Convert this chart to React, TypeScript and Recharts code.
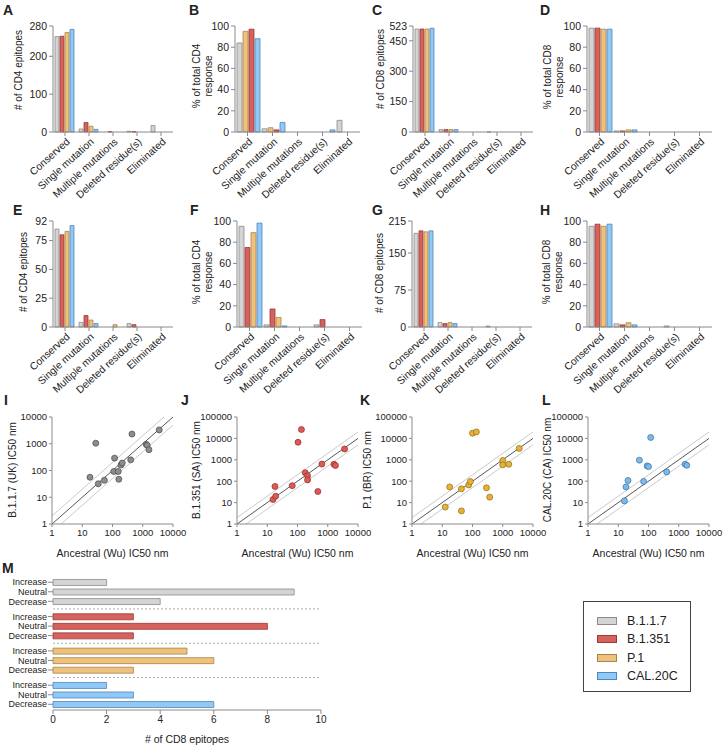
import React from 'react';
import { BarChart, Bar, XAxis, YAxis, ScatterChart, Scatter, ReferenceLine, Cell, Label } from 'recharts';

// categories shared by the bar panels
const categories = ['Conserved', 'Single mutation', 'Multiple mutations', 'Deleted residue(s)', 'Eliminated'];
const variants = ['B.1.1.7', 'B.1.351', 'P.1', 'CAL.20C'];

// A - # of CD4 epitopes
const aB117 = [252, 8, 0, 2, 17];
const aB1351 = [253, 25, 1, 1, 0];
const aP1 = [263, 15, 0, 0, 0];
const aCAL = [271, 7, 0, 0, 0];
// B - % of total CD4 response (drawn gray, orange, red, blue)
const bB117 = [84, 3, 0, 0, 11];
const bP1 = [95, 4, 0, 0, 0];
const bB1351 = [97, 2, 0, 0, 0];
const bCAL = [88, 9, 0, 2, 0];
// C - # of CD8 epitopes
const cB117 = [508, 12, 0, 1, 0];
const cB1351 = [508, 12, 0, 0, 0];
const cP1 = [508, 12, 0, 0, 0];
const cCAL = [512, 12, 0, 0, 0];
// D - % of total CD8 response
const dB117 = [98, 1, 0, 0, 0];
const dB1351 = [98, 1, 0, 0, 0];
const dP1 = [97, 2, 0, 0, 0];
const dCAL = [97, 2, 0, 0, 0];
// E
const eB117 = [85, 4, 0, 3, 0];
const eB1351 = [80, 10, 0, 2, 0];
const eP1 = [83, 6, 2, 0, 0];
const eCAL = [88, 3, 0, 0, 0];
// F
const fB117 = [95, 2, 0, 2, 0];
const fB1351 = [75, 17, 0, 7, 0];
const fP1 = [89, 9, 0, 0, 0];
const fCAL = [98, 1, 0, 0, 0];
// G
const gB117 = [190, 9, 0, 2, 0];
const gB1351 = [195, 7, 0, 0, 0];
const gP1 = [193, 9, 0, 0, 0];
const gCAL = [195, 7, 0, 0, 0];
// H
const hB117 = [95, 3, 0, 1, 0];
const hB1351 = [97, 2, 0, 0, 0];
const hP1 = [95, 4, 0, 0, 0];
const hCAL = [97, 2, 0, 0, 0];

// I-L: ancestral vs variant IC50 (nM)
const iAnc = [18, 28, 34, 54, 110, 117, 155, 162, 190, 210, 400, 440, 1300, 1400, 1600, 3500];
const iVar = [56, 1050, 32, 43, 92, 290, 92, 47, 160, 190, 250, 2300, 950, 880, 600, 3300];
const jAnc = [15.5, 18, 19, 67, 104, 135, 180, 215, 215, 470, 640, 1600, 1800, 3600];
const jVar = [14, 57, 20, 62, 6600, 26000, 250, 180, 115, 33, 630, 620, 540, 3200];
const kAnc = [12.6, 17.6, 43, 43, 75, 85, 100, 134, 290, 370, 1000, 1000, 1580, 3500];
const kVar = [6.2, 54, 44, 4.1, 67, 97, 17500, 20000, 49, 18, 930, 580, 620, 3400];
const lAnc = [16, 18, 21, 50, 69, 90, 100, 118, 400, 1620, 1850];
const lVar = [12, 54, 108, 960, 97, 520, 480, 11000, 270, 620, 550];

// M: # of CD8 epitopes by effect
const effects = ['Increase', 'Neutral', 'Decrease'];
const mB117 = [2, 9, 4];
const mB1351 = [3, 8, 3];
const mP1 = [5, 6, 3];
const mCAL = [2, 3, 6];

const GRAY = { fill: '#d4d4d4', stroke: '#8c8c8c' };
const RED = { fill: '#d5625c', stroke: '#9b3a36' };
const ORANGE = { fill: '#efc27c', stroke: '#a9834c' };
const BLUE = { fill: '#90c8f6', stroke: '#4f86bd' };
const AX = '#8a8a8a';
const TXT = '#222';

const SlantTick = (props: any) => {
  const { x, y, payload } = props;
  return (
    <g transform={`translate(${x + 3},${y + 2})`}>
      <text textAnchor="end" transform="rotate(-42)" fontSize={10.3} fill={TXT} dy="0.35em">
        {payload.value}
      </text>
    </g>
  );
};

const Letter = ({ t, x, y }: any) => (
  <div style={{ position: 'absolute', left: x, top: y - 12, fontSize: 14, fontWeight: 'bold', lineHeight: '14px' }}>{t}</div>
);

const VLabel = ({ lines, x, y, size = 10 }: any) => (
  <div
    style={{
      position: 'absolute', left: x, top: y, transform: 'translate(-50%,-50%) rotate(-90deg)',
      whiteSpace: 'nowrap', textAlign: 'center', fontSize: size, lineHeight: '12px', color: TXT,
    }}
  >
    {lines.map((l: string) => <div key={l}>{l}</div>)}
  </div>
);

function BarPanel({ letter, lx, ly, x, y, width, yW, plotW, series, colors, ticks, yMax, yLabel, labX, labY }: any) {
  const rows = categories.map((c, i) => {
    const r: any = { cat: c };
    series.forEach((s: number[], k: number) => { r['s' + k] = s[i]; });
    return r;
  });
  return (
    <>
      <div style={{ position: 'absolute', left: x, top: y, width, height: 215 }}>
        <BarChart width={width} height={215} data={rows} margin={{ top: 26, right: width - yW - plotW, left: 0, bottom: 0 }} barCategoryGap={2} barGap={1}>
          <XAxis dataKey="cat" interval={0} height={83} tick={<SlantTick />} tickSize={4} axisLine={{ stroke: AX }} tickLine={{ stroke: AX }} />
          <YAxis type="number" domain={[0, yMax]} ticks={ticks} interval={0} width={yW} tickSize={4} tick={{ fontSize: 10.5, fill: TXT }} axisLine={{ stroke: AX }} tickLine={{ stroke: AX }} />
          {series.map((s: number[], k: number) => (
            <Bar key={k} dataKey={'s' + k} name={variants[k]} fill={colors[k].fill} stroke={colors[k].stroke} strokeWidth={0.8} isAnimationActive={false} />
          ))}
        </BarChart>
      </div>
      <Letter t={letter} x={lx} y={ly} />
      <VLabel lines={yLabel} x={labX} y={labY} />
    </>
  );
}

function ScatterPanel({ letter, lx, ly, x, width, yW, anc, vari, yMax, color, yLabel, labX }: any) {
  const pts = anc.map((a: number, i: number) => ({ x: a, y: vari[i] }));
  const yTicks = yMax === 10000 ? [1, 10, 100, 1000, 10000] : [1, 10, 100, 1000, 10000, 100000];
  const dot = (p: any) => <circle cx={p.cx} cy={p.cy} r={3} fill={color.fill} stroke={color.stroke} strokeWidth={0.7} />;
  const w = width + 14;
  return (
    <>
      <div style={{ position: 'absolute', left: x, top: 400, width: w, height: 165 }}>
        <ScatterChart width={w} height={165} margin={{ top: 17, right: w - yW - 121, left: 0, bottom: 0 }}>
          <XAxis type="number" dataKey="x" scale="log" domain={[1, 10000]} ticks={[1, 10, 100, 1000, 10000]} interval={0} allowDataOverflow height={41} tickSize={3} tick={{ fontSize: 9.5, fill: TXT }} axisLine={{ stroke: AX }} tickLine={{ stroke: AX }}>
            <Label value="Ancestral (Wu) IC50 nm" position="insideBottom" offset={8} style={{ fontSize: 10.5, fill: TXT }} />
          </XAxis>
          <YAxis type="number" dataKey="y" scale="log" domain={[1, yMax]} ticks={yTicks} interval={0} allowDataOverflow width={yW} tickSize={3} tick={{ fontSize: 9.5, fill: TXT }} axisLine={{ stroke: AX }} tickLine={{ stroke: AX }} />
          <ReferenceLine segment={[{ x: 1, y: 2 }, { x: yMax === 10000 ? 5000 : 10000, y: yMax === 10000 ? 10000 : 20000 }]} stroke="#c4c4c4" strokeWidth={0.9} ifOverflow="visible" />
          <ReferenceLine segment={[{ x: 2, y: 1 }, { x: 10000, y: 5000 }]} stroke="#c4c4c4" strokeWidth={0.9} ifOverflow="visible" />
          <ReferenceLine segment={[{ x: 1, y: 1 }, { x: 10000, y: 10000 }]} stroke="#444" strokeWidth={0.9} ifOverflow="visible" />
          <Scatter data={pts} shape={dot} isAnimationActive={false} />
        </ScatterChart>
      </div>
      <Letter t={letter} x={lx} y={ly} />
      <VLabel lines={[yLabel]} x={labX} y={470} />
    </>
  );
}

function EffectPanel() {
  const groups = [mB117, mB1351, mP1, mCAL];
  const cols = [GRAY, RED, ORANGE, BLUE];
  const rows = groups.flatMap((g, gi) => effects.map((e, ei) => ({ pos: gi * 3.6 + ei, label: e, value: g[ei], gi })));
  const fmt = (v: number) => {
    const r = rows.find((q) => Math.abs(q.pos - v) < 0.01);
    return r ? r.label : '';
  };
  return (
    <div style={{ position: 'absolute', left: 0, top: 570, width: 330, height: 178 }}>
      <BarChart layout="vertical" width={330} height={178} data={rows} margin={{ top: 7, right: 9, left: 0, bottom: 0 }}>
        <XAxis type="number" domain={[0, 10]} ticks={[0, 2, 4, 6, 8, 10]} interval={0} height={38} tickSize={4} tick={{ fontSize: 10, fill: TXT }} axisLine={{ stroke: AX }} tickLine={{ stroke: AX }}>
          <Label value="# of CD8 epitopes" position="insideBottom" offset={5} style={{ fontSize: 10.5, fill: TXT }} />
        </XAxis>
        <YAxis type="number" dataKey="pos" domain={[-0.55, 13.4]} ticks={rows.map((r) => r.pos)} interval={0} tickFormatter={fmt} width={53} tickSize={5} tickMargin={1} tick={{ fontSize: 9, fill: TXT }} axisLine={false} tickLine={{ stroke: AX }} />
        {[2.8, 6.4, 10].map((p) => (
          <ReferenceLine key={p} y={p} stroke="#999" strokeDasharray="2 2" strokeWidth={0.8} />
        ))}
        <Bar dataKey="value" barSize={6} strokeWidth={0.8} isAnimationActive={false}>
          {rows.map((r, i) => (
            <Cell key={i} fill={cols[r.gi].fill} stroke={cols[r.gi].stroke} />
          ))}
        </Bar>
      </BarChart>
    </div>
  );
}

const Legend = () => {
  const cols = [GRAY, RED, ORANGE, BLUE];
  return (
    <div style={{ position: 'absolute', left: 583, top: 601, width: 108, height: 91, border: '1px solid #444', boxSizing: 'border-box' }}>
      {variants.map((v, i) => (
        <div key={v} style={{ position: 'absolute', left: 13, top: 12 + i * 18.3, height: 14, display: 'flex', alignItems: 'center' }}>
          <div style={{ width: 18, height: 6, background: cols[i].fill, border: `1px solid ${cols[i].stroke}` }} />
          <span style={{ marginLeft: 10, fontSize: 12.5, color: TXT }}>{v}</span>
        </div>
      ))}
    </div>
  );
};

export default function App() {
  const std = [GRAY, RED, ORANGE, BLUE];
  const pct = [0, 20, 40, 60, 80, 100];
  return (
    <div style={{ position: 'absolute', left: 0, top: 0, width: 727, height: 748, background: '#fff', fontFamily: '"Liberation Sans", Arial, sans-serif', color: TXT }}>
      <BarPanel letter="A" lx={3} ly={15} x={0} y={0} width={180} yW={53} plotW={120} series={[aB117, aB1351, aP1, aCAL]} colors={std} ticks={[0, 100, 200, 280]} yMax={280} yLabel={['# of CD4 epitopes']} labX={19} labY={70} />
      <BarPanel letter="B" lx={189} ly={15} x={180} y={0} width={180} yW={55} plotW={125} series={[bB117, bP1, bB1351, bCAL]} colors={[GRAY, ORANGE, RED, BLUE]} ticks={pct} yMax={100} yLabel={['% of total CD4', 'response']} labX={203} labY={76} />
      <BarPanel letter="C" lx={372} ly={15} x={360} y={0} width={180} yW={53} plotW={120} series={[cB117, cB1351, cP1, cCAL]} colors={std} ticks={[0, 150, 300, 450, 523]} yMax={523} yLabel={['# of CD8 epitopes']} labX={381} labY={69} />
      <BarPanel letter="D" lx={540} ly={15} x={540} y={0} width={187} yW={47} plotW={125} series={[dB117, dB1351, dP1, dCAL]} colors={std} ticks={pct} yMax={100} yLabel={['% of total CD8', 'response']} labX={554} labY={77} />

      <BarPanel letter="E" lx={13} ly={215} x={0} y={195} width={180} yW={53} plotW={120} series={[eB117, eB1351, eP1, eCAL]} colors={std} ticks={[0, 25, 50, 75, 92]} yMax={92} yLabel={['# of CD4 epitopes']} labX={24} labY={272} />
      <BarPanel letter="F" lx={190} ly={215} x={180} y={195} width={185} yW={57} plotW={125} series={[fB117, fB1351, fP1, fCAL]} colors={std} ticks={pct} yMax={100} yLabel={['% of total CD4', 'response']} labX={203} labY={272} />
      <BarPanel letter="G" lx={372} ly={215} x={360} y={195} width={180} yW={52} plotW={120} series={[gB117, gB1351, gP1, gCAL]} colors={std} ticks={[0, 75, 150, 215]} yMax={215} yLabel={['# of CD8 epitopes']} labX={380} labY={273} />
      <BarPanel letter="H" lx={540} ly={215} x={540} y={195} width={187} yW={47} plotW={125} series={[hB117, hB1351, hP1, hCAL]} colors={std} ticks={pct} yMax={100} yLabel={['% of total CD8', 'response']} labX={553} labY={272} />

      <ScatterPanel letter="I" lx={4} ly={405} x={0} width={180} yW={52} anc={iAnc} vari={iVar} yMax={10000} color={{ fill: '#8d8d8d', stroke: '#474747' }} yLabel="B.1.1.7 (UK) IC50 nm" labX={13} />
      <ScatterPanel letter="J" lx={181} ly={405} x={180} width={180} yW={57} anc={jAnc} vari={jVar} yMax={100000} color={{ fill: '#dc5a55', stroke: '#8e2e2a' }} yLabel="B.1.351 (SA) IC50 nm" labX={197} />
      <ScatterPanel letter="K" lx={360} ly={405} x={360} width={180} yW={52} anc={kAnc} vari={kVar} yMax={100000} color={{ fill: '#e8b234', stroke: '#8e6a1c' }} yLabel="P.1 (BR) IC50 nm" labX={368} />
      <ScatterPanel letter="L" lx={542} ly={405} x={540} width={172} yW={48} anc={lAnc} vari={lVar} yMax={100000} color={{ fill: '#7cb9ec', stroke: '#3b6e9c' }} yLabel="CAL.20C (CA) IC50 nm" labX={548} />

      <Letter t="M" x={2} y={573} />
      <EffectPanel />
      <Legend />
    </div>
  );
}
